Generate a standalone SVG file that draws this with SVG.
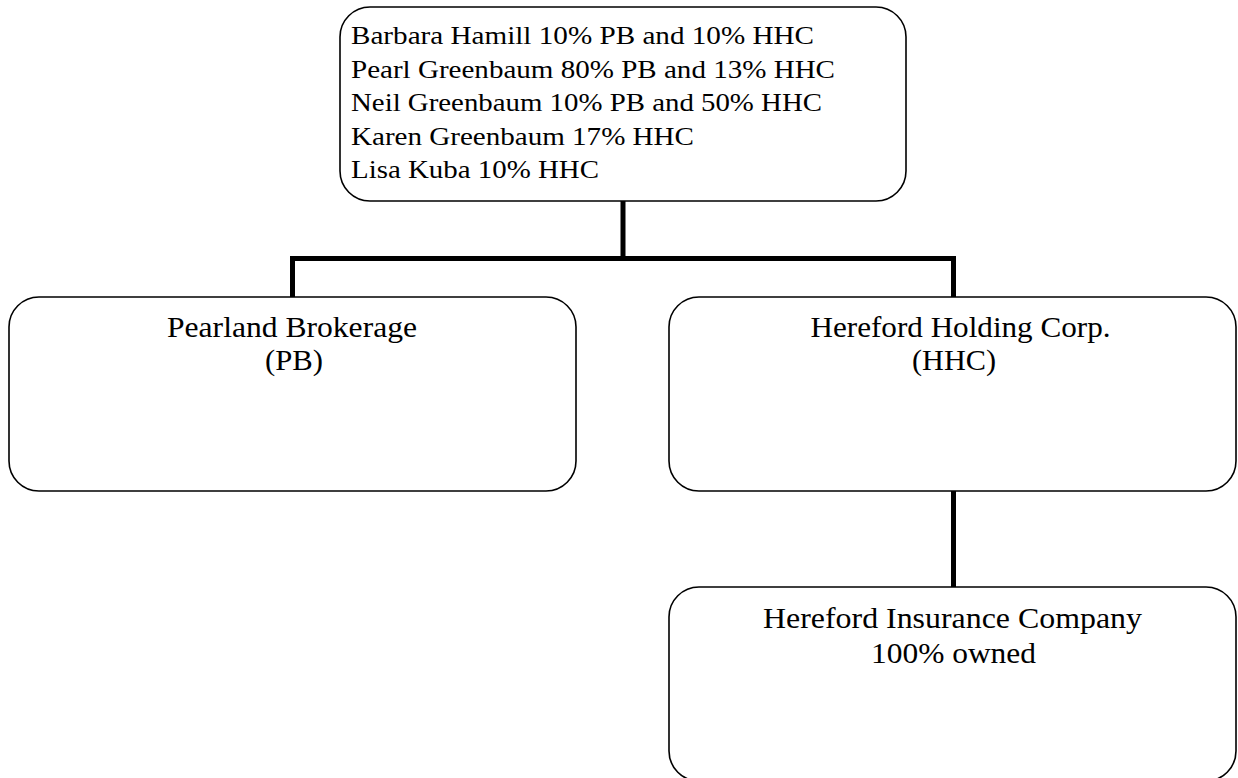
<svg xmlns="http://www.w3.org/2000/svg" width="1238" height="778" viewBox="0 0 1238 778">
<style>
.box{fill:#fff;stroke:#000;stroke-width:1.6}
.conn{fill:none;stroke:#000;stroke-width:5;stroke-linejoin:miter;stroke-linecap:butt}
.t{font-family:"Liberation Serif","Times New Roman",serif;fill:#000}
.s{font-size:26px}
.m{font-size:29px}
</style>
<rect width="1238" height="778" fill="#fff"/>
<g id="connectors">
<path class="conn" d="M292.5 297 V258.5 H953.5 V297"/>
<path class="conn" d="M623 201 V258.5"/>
<path class="conn" d="M953.5 491 V587"/>
</g>
<g id="owners">
<rect class="box" x="340" y="7" width="566" height="194" rx="30" ry="30"/>
<text class="t s" x="351" y="44" textLength="463" lengthAdjust="spacingAndGlyphs">Barbara Hamill 10% PB and 10% HHC</text>
<text class="t s" x="351" y="77.5" textLength="484" lengthAdjust="spacingAndGlyphs">Pearl Greenbaum 80% PB and 13% HHC</text>
<text class="t s" x="351" y="111" textLength="471" lengthAdjust="spacingAndGlyphs">Neil Greenbaum 10% PB and 50% HHC</text>
<text class="t s" x="351" y="144.5" textLength="343" lengthAdjust="spacingAndGlyphs">Karen Greenbaum 17% HHC</text>
<text class="t s" x="351" y="178" textLength="248" lengthAdjust="spacingAndGlyphs">Lisa Kuba 10% HHC</text>
</g>
<g id="pb">
<rect class="box" x="9" y="297" width="567" height="194" rx="30" ry="30"/>
<text class="t m" x="167" y="337" textLength="250" lengthAdjust="spacingAndGlyphs">Pearland Brokerage</text>
<text class="t m" x="265" y="370" textLength="58" lengthAdjust="spacingAndGlyphs">(PB)</text>
</g>
<g id="hhc">
<rect class="box" x="669" y="297" width="567" height="194" rx="30" ry="30"/>
<text class="t m" x="810.5" y="337" textLength="300" lengthAdjust="spacingAndGlyphs">Hereford Holding Corp.</text>
<text class="t m" x="912" y="370" textLength="84" lengthAdjust="spacingAndGlyphs">(HHC)</text>
</g>
<g id="hic">
<rect class="box" x="669" y="587" width="567" height="194" rx="30" ry="30"/>
<text class="t m" x="763" y="628" textLength="379" lengthAdjust="spacingAndGlyphs">Hereford Insurance Company</text>
<text class="t m" x="871" y="663" textLength="165" lengthAdjust="spacingAndGlyphs">100% owned</text>
</g>
</svg>
